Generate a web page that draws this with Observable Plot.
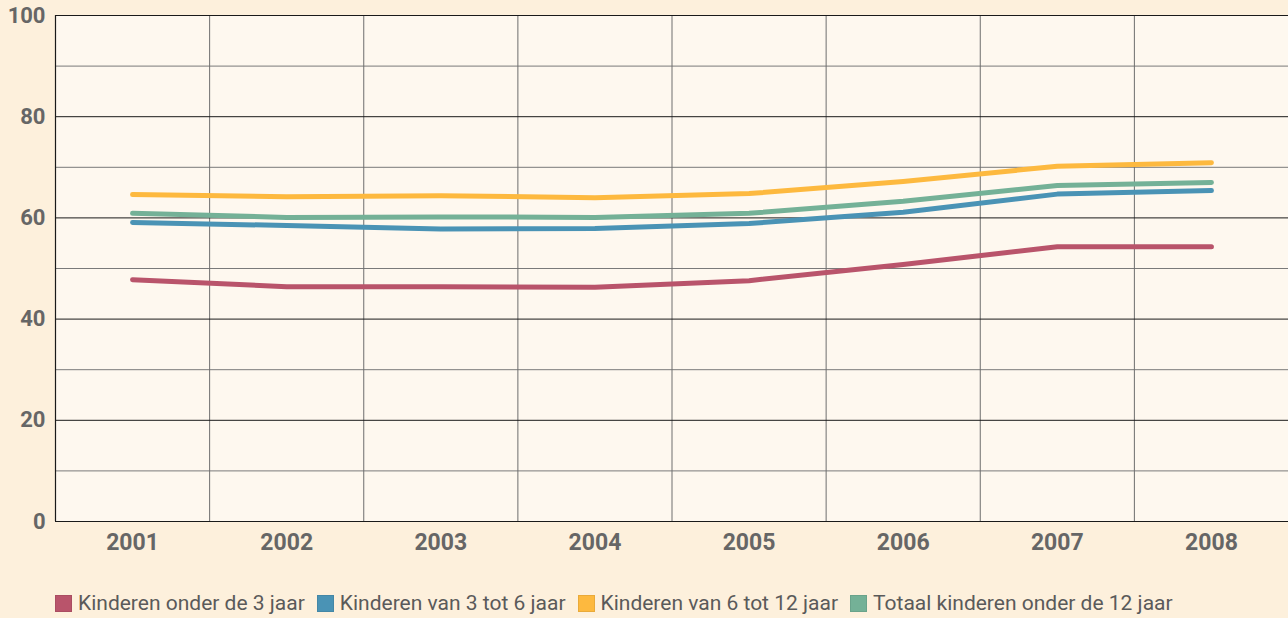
<!DOCTYPE html>
<html>
<head>
<meta charset="utf-8">
<script src="https://cdn.jsdelivr.net/npm/d3@7"></script>
<script src="https://cdn.jsdelivr.net/npm/@observablehq/plot@0.6"></script>
<style>
  html, body { margin: 0; padding: 0; background: #fdf0dc; }
  body { width: 1288px; height: 618px; overflow: hidden; position: relative; font-family: Roboto, "Noto Sans", sans-serif; }
  #chart { position: absolute; left: 0; top: 0; }
  #legend { position: absolute; left: 55px; top: 591px; display: flex; font-size: 21px; color: #5a5a5a; white-space: nowrap; }
  .item { display: flex; align-items: center; margin-right: 12px; }
  .sw { width: 15px; height: 15px; margin-right: 6px; border: 1px solid rgba(0,0,0,0.08); }
</style>
</head>
<body>
<div id="chart"></div>
<div id="legend"></div>
<script>
const years = [2001, 2002, 2003, 2004, 2005, 2006, 2007, 2008];
const seriesNames = [
  "Kinderen onder de 3 jaar",
  "Kinderen van 3 tot 6 jaar",
  "Kinderen van 6 tot 12 jaar",
  "Totaal kinderen onder de 12 jaar"
];
const colors = ["#b9546b", "#4a93b5", "#fdb93f", "#74b197"];
const onder3 = [47.8, 46.4, 46.4, 46.3, 47.6, 50.8, 54.3, 54.3];
const van3tot6 = [59.1, 58.5, 57.8, 57.9, 58.9, 61.1, 64.7, 65.4];
const van6tot12 = [64.6, 64.2, 64.4, 64.0, 64.8, 67.2, 70.2, 70.9];
const totaal = [60.9, 60.1, 60.2, 60.1, 60.9, 63.3, 66.4, 67.0];
const yTicks = [0, 20, 40, 60, 80, 100];

const seriesValues = [onder3, van3tot6, van6tot12, totaal];
const data = seriesNames.flatMap((name, i) =>
  years.map((year, j) => ({ series: name, year, value: seriesValues[i][j] }))
);
const bandEdges = years.slice(0, -1).map(y => y + 0.5);
const majorH = d3.range(0, 101, 20);
const minorH = d3.range(10, 100, 20);

const chart = Plot.plot({
  width: 1288,
  height: 570,
  marginLeft: 55,
  marginRight: 0,
  marginTop: 15,
  marginBottom: 49,
  style: { background: "transparent", fontFamily: "Roboto, 'Noto Sans', sans-serif" },
  x: { domain: [2000.5, 2008.5], axis: null },
  y: { domain: [0, 100], axis: null },
  color: { domain: seriesNames, range: colors },
  marks: [
    Plot.frame({ fill: "#fef8ef", stroke: null }),
    Plot.ruleY(minorH, { stroke: "#7a7a7a", strokeWidth: 1 }),
    Plot.ruleX(bandEdges, { stroke: "#6e6e6e", strokeWidth: 1 }),
    Plot.ruleY(majorH, { stroke: "#1a1a1a", strokeWidth: 1 }),
    Plot.ruleX([2000.5], { stroke: "#1a1a1a", strokeWidth: 1.2 }),
    Plot.line(data, {
      x: "year", y: "value", z: "series", stroke: "series",
      strokeWidth: 5, strokeLinecap: "round", strokeLinejoin: "round", curve: "linear"
    }),
    Plot.text(yTicks, {
      x: 2000.5, y: d => d, text: d => String(d), textAnchor: "end", dx: -10, dy: 0,
      fontSize: 22, fontWeight: "bold", fill: "#666666"
    }),
    Plot.text(years, {
      x: d => d, y: 0, text: d => String(d), dy: 21,
      fontSize: 23, fontWeight: "bold", fill: "#666666"
    })
  ]
});
document.getElementById("chart").appendChild(chart);

const legend = document.getElementById("legend");
seriesNames.forEach((name, i) => {
  const item = document.createElement("div");
  item.className = "item";
  const sw = document.createElement("span");
  sw.className = "sw";
  sw.style.background = colors[i];
  const label = document.createElement("span");
  label.textContent = name;
  item.appendChild(sw);
  item.appendChild(label);
  legend.appendChild(item);
});
</script>
</body>
</html>
